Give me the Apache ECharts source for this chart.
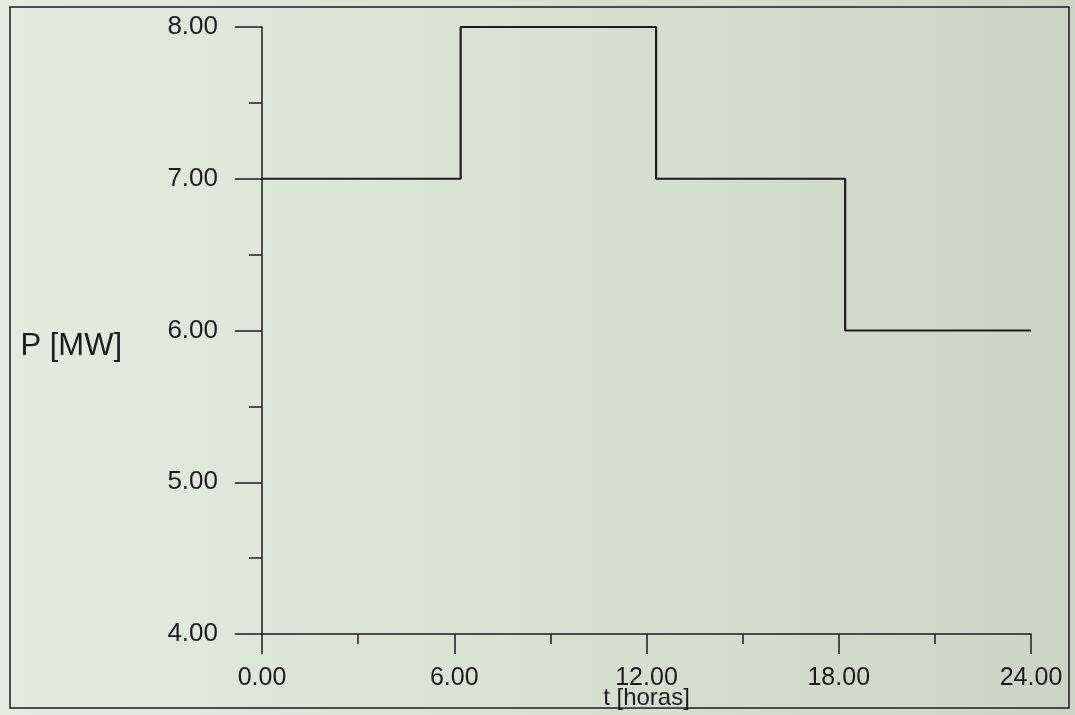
<!DOCTYPE html>
<html>
<head>
<meta charset="utf-8">
<script src="https://cdn.jsdelivr.net/npm/echarts@6/dist/echarts.min.js"></script>
<style>
  html, body { margin: 0; padding: 0; }
  #chart { width: 1075px; height: 715px; }
</style>
</head>
<body>
<div id="chart"></div>
<script>
// tempo [h] onde a carga muda, e a potencia mantida a partir desse instante
const stepTimes = [0, 6.2, 12.3, 18.2, 24];
const loadMW = [7, 8, 7, 6, 6];
const xTicks = [0, 6, 12, 18, 24];
const yTicks = [4, 5, 6, 7, 8];

const ink = "#1c1c1c";
const font = "'Liberation Sans', Arial, sans-serif";

let chart = echarts.init(document.getElementById("chart"));

let option = {
  backgroundColor: new echarts.graphic.LinearGradient(0, 0, 1, 0, [
    { offset: 0, color: "#e3ecdf" },
    { offset: 0.5, color: "#d8e2d3" },
    { offset: 1, color: "#cad5c5" },
  ]),
  animation: false,
  graphic: [
    {
      type: "rect",
      shape: { x: 10, y: 7, width: 1059, height: 701 },
      style: { fill: "none", stroke: ink, lineWidth: 1.5 },
      z: -1,
    },
  ],
  grid: {
    left: 262,
    right: 44,
    top: 27,
    bottom: 81,
    outerBoundsMode: "none",
  },
  xAxis: {
    type: "value",
    min: xTicks[0],
    max: xTicks[xTicks.length - 1],
    interval: 6,
    name: "t [horas]",
    nameLocation: "middle",
    nameGap: 52,
    nameMoveOverlap: false,
    nameTextStyle: { color: ink, fontFamily: font, fontSize: 24 },
    axisLine: { show: true, lineStyle: { color: ink, width: 1.5 } },
    axisTick: { show: true, length: 20, lineStyle: { color: ink, width: 1.5 } },
    minorTick: { show: true, splitNumber: 2, length: 10, lineStyle: { color: ink, width: 1.5 } },
    splitLine: { show: false },
    axisLabel: {
      color: ink,
      fontFamily: font,
      fontSize: 25,
      margin: 32,
      formatter: (v) => v.toFixed(2),
    },
  },
  yAxis: {
    type: "value",
    min: yTicks[0],
    max: yTicks[yTicks.length - 1],
    interval: 1,
    name: "P [MW]",
    nameLocation: "middle",
    nameRotate: 0,
    nameGap: 140,
    nameMoveOverlap: false,
    nameTextStyle: {
      color: ink,
      fontFamily: font,
      fontSize: 31,
      verticalAlign: "top",
    },
    axisLine: { show: true, lineStyle: { color: ink, width: 1.5 } },
    axisTick: { show: true, length: 27, lineStyle: { color: ink, width: 1.5 } },
    minorTick: { show: true, splitNumber: 2, length: 13, lineStyle: { color: ink, width: 1.5 } },
    splitLine: { show: false },
    axisLabel: {
      color: ink,
      fontFamily: font,
      fontSize: 26,
      margin: 44,
      formatter: (v) => v.toFixed(2),
    },
  },
  series: [
    {
      type: "line",
      step: "end",
      symbol: "none",
      data: stepTimes.map((t, i) => [t, loadMW[i]]),
      lineStyle: { color: ink, width: 2.2 },
    },
  ],
};

chart.setOption(option);
</script>
</body>
</html>
